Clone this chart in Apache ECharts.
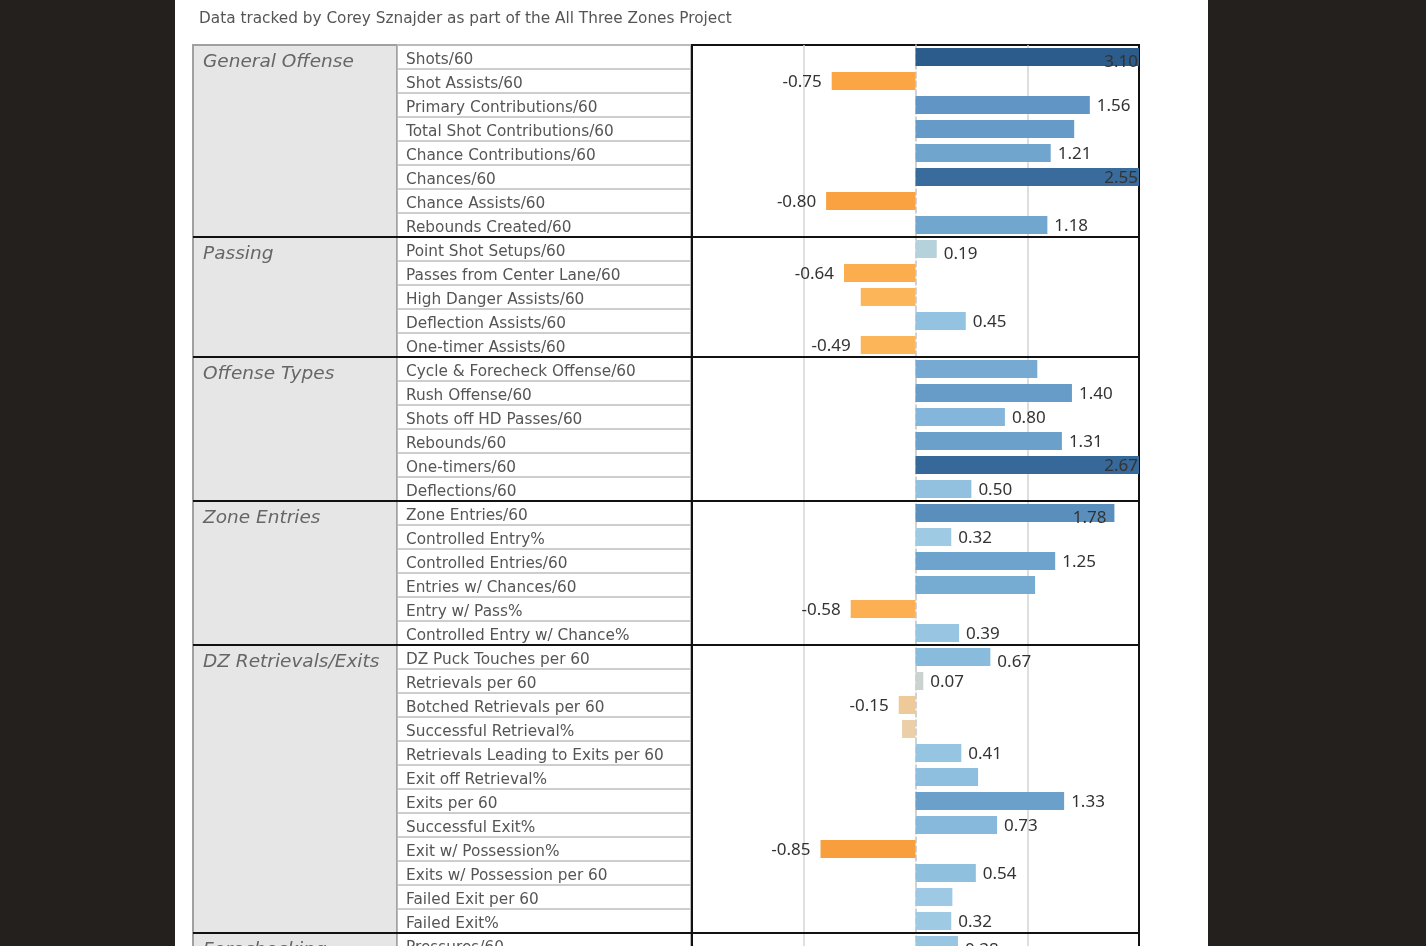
<!DOCTYPE html>
<html><head><meta charset="utf-8">
<script src="https://cdn.jsdelivr.net/npm/echarts@6/dist/echarts.min.js"></script>
<style>
html,body{margin:0;padding:0;background:#23201d;overflow:hidden;height:946px}
#panel{position:absolute;left:175px;top:0;width:1033px;height:1000px;background:#fff}
#c{position:absolute;left:0;top:0;width:1426px;height:1000px}
</style>
</head><body><div id="panel"></div><div id="c"></div><script>
const subtitle = 'Data tracked by Corey Sznajder as part of the All Three Zones Project';
const groups = ['General Offense','Passing','Offense Types','Zone Entries','DZ Retrievals/Exits','Forechecking'];
const groupSizes = [8,5,6,6,12,1];
const metrics = [
  'Shots/60','Shot Assists/60','Primary Contributions/60','Total Shot Contributions/60','Chance Contributions/60','Chances/60','Chance Assists/60','Rebounds Created/60',
  'Point Shot Setups/60','Passes from Center Lane/60','High Danger Assists/60','Deflection Assists/60','One-timer Assists/60',
  'Cycle & Forecheck Offense/60','Rush Offense/60','Shots off HD Passes/60','Rebounds/60','One-timers/60','Deflections/60',
  'Zone Entries/60','Controlled Entry%','Controlled Entries/60','Entries w/ Chances/60','Entry w/ Pass%','Controlled Entry w/ Chance%',
  'DZ Puck Touches per 60','Retrievals per 60','Botched Retrievals per 60','Successful Retrieval%','Retrievals Leading to Exits per 60','Exit off Retrieval%','Exits per 60','Successful Exit%','Exit w/ Possession%','Exits w/ Possession per 60','Failed Exit per 60','Failed Exit%',
  'Pressures/60'
];
const values = [
  3.10,-0.75,1.56,1.42,1.21,2.55,-0.80,1.18,
  0.19,-0.64,-0.49,0.45,-0.49,
  1.09,1.40,0.80,1.31,2.67,0.50,
  1.78,0.32,1.25,1.07,-0.58,0.39,
  0.67,0.07,-0.15,-0.12,0.41,0.56,1.33,0.73,-0.85,0.54,0.33,0.32,
  0.38
];
const unlabeled = ['Total Shot Contributions/60','High Danger Assists/60','Cycle & Forecheck Offense/60','Entries w/ Chances/60','Successful Retrieval%','Exit off Retrieval%','Failed Exit per 60'];

// colour ramp (styling)
const ramp = [[-0.85,'#f99e3c'],[-0.75,'#fba545'],[-0.64,'#fcad4e'],[-0.49,'#fdb55a'],[-0.15,'#eec99a'],[-0.12,'#ebcfa9'],
  [0.07,'#cbd3d0'],[0.19,'#b5d1dc'],[0.32,'#9ecae4'],[0.45,'#93c3e0'],[0.8,'#83b6da'],[1.21,'#70a5ce'],[1.56,'#6095c5'],
  [1.78,'#5a8fbd'],[2.55,'#396b9d'],[3.1,'#2c5c8c']];
function rgb(h){return [1,3,5].map(i=>parseInt(h.slice(i,i+2),16));}
function colorFor(v){
  if(v<=ramp[0][0]) return ramp[0][1];
  for(let i=1;i<ramp.length;i++){
    if(v<=ramp[i][0]){
      const t=(v-ramp[i-1][0])/(ramp[i][0]-ramp[i-1][0]);
      const a=rgb(ramp[i-1][1]), b=rgb(ramp[i][1]);
      return 'rgb('+a.map((x,k)=>Math.round(x+(b[k]-x)*t)).join(',')+')';
    }
  }
  return ramp[ramp.length-1][1];
}

const groupStart = {};
let acc = 0; const bounds = [];
groups.forEach((g,i)=>{ groupStart[acc]=g; acc+=groupSizes[i]; bounds.push(acc); });
const total = acc;

const FONT = '"DejaVu Sans"';
const VFONT = '"Noto Sans"';
const ROW = 24, TOP = 45, H = ROW*total;
const chart = echarts.init(document.getElementById('c'));
const catAxisBase = {type:'category', inverse:true, data:metrics, axisTick:{show:false}, axisLine:{show:false}};
const hiddenX = gi => ({gridIndex:gi, type:'value', show:false, min:0, max:1});
chart.setOption({
  backgroundColor:'transparent',
  animation:false,
  textStyle:{fontFamily:FONT},
  graphic:[{type:'text', left:199, top:12, style:{text:subtitle, fill:'#555', font:'15.3px '+FONT}}],
  grid:[
    {left:193, top:TOP, width:204, height:H, show:true, backgroundColor:'#e6e6e6', borderColor:'#a0a0a0', borderWidth:2, outerBoundsMode:'none'},
    {left:397, top:TOP, width:294, height:H, show:true, backgroundColor:'#fff', borderColor:'#a3a3a3', borderWidth:1.5, outerBoundsMode:'none'},
    {left:692, top:TOP, width:447, height:H, show:true, backgroundColor:'#fff', borderColor:'#111', borderWidth:2, outerBoundsMode:'none'},
    {left:193, top:TOP, width:946, height:H, show:false, outerBoundsMode:'none'},
    {left:193, top:TOP+5, width:204, height:H, show:false, outerBoundsMode:'none'},
    {left:397, top:TOP+3, width:294, height:H, show:false, outerBoundsMode:'none'}
  ],
  xAxis:[
    hiddenX(0), hiddenX(1),
    {gridIndex:2, type:'value', min:-2, max:2, interval:1, axisLabel:{show:false}, axisLine:{show:false}, axisTick:{show:false},
      splitLine:{show:true, lineStyle:{color:['rgba(0,0,0,0)','#d6d6d6','rgba(0,0,0,0)','#d3d3d3','rgba(0,0,0,0)'], width:1.5}}},
    hiddenX(3), hiddenX(4), hiddenX(5)
  ],
  yAxis:[
    Object.assign({}, catAxisBase, {gridIndex:0, axisLabel:{show:false}}),
    Object.assign({}, catAxisBase, {gridIndex:1, axisLabel:{show:false},
      splitLine:{show:true, interval:0, lineStyle:{color:'#bdbdbd', width:1.5}}}),
    Object.assign({}, catAxisBase, {gridIndex:2, axisLabel:{show:false},
      axisLine:{show:true, onZero:true, lineStyle:{color:'#c4c4c4', type:'dashed', width:1.5}}}),
    {gridIndex:3, type:'value', show:false, min:0, max:total, inverse:true},
    Object.assign({}, catAxisBase, {gridIndex:4, axisLabel:{inside:true, interval:0, margin:10, color:'#666', fontSize:18.5, fontStyle:'italic', fontFamily:FONT,
      formatter:(v,i)=> groupStart[i]||''}}),
    Object.assign({}, catAxisBase, {gridIndex:5, axisLabel:{inside:true, interval:0, margin:9, color:'#555', fontSize:15.3, fontFamily:FONT}})
  ],
  series:[
    {type:'bar', xAxisIndex:2, yAxisIndex:2, barWidth:18, clip:true, z:3,
      itemStyle:{color:p=>colorFor(p.value)},
      label:{show:true, color:'#333', fontSize:17, fontFamily:VFONT, distance:7, formatter:p=>p.value.toFixed(2)},
      data: values.map((v,i)=>{
        const inside = v>1.62;
        const first = groupStart[i]!==undefined;
        return {value:v, label:{show:!unlabeled.includes(metrics[i]), position: v<0?'left':(inside?'insideRight':'right'),
          offset:[0, first?5:1], distance: v<0?10:(inside?(v>2?1:8):7)}};
      })
    },
    {type:'line', xAxisIndex:3, yAxisIndex:3, data:[], symbol:'none', silent:true, z:10,
      markLine:{silent:true, symbol:'none', label:{show:false}, lineStyle:{color:'#111', width:2, type:'solid'},
        data: bounds.slice(0,-1).map(b=>({yAxis:b}))}}
  ]
});
</script></body></html>
